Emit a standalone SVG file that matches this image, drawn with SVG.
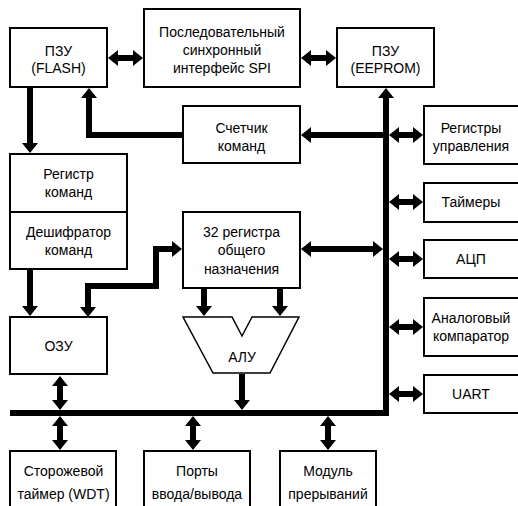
<svg xmlns="http://www.w3.org/2000/svg" width="518" height="506" viewBox="0 0 518 506">
<style>
.b{fill:#fff;stroke:#000;stroke-width:2}
.t{font-family:"Liberation Sans",Arial,sans-serif;font-size:14px;fill:#000;text-anchor:middle}
.c{fill:none;stroke:#000;stroke-width:6;stroke-linejoin:miter;stroke-linecap:butt}
.a1{marker-end:url(#ah)}
.a2{marker-start:url(#ah);marker-end:url(#ah)}
</style>
<defs>
<marker id="ah" markerUnits="userSpaceOnUse" markerWidth="10" markerHeight="16" refX="0" refY="8" orient="auto-start-reverse" overflow="visible">
<path d="M0,0 L10,8 L0,16 Z" fill="#000"/>
</marker>
</defs>
<rect width="518" height="506" fill="#fff"/>

<g id="connectors">
<!-- bus -->
<polyline class="c a1" points="10,413 386,413 386,98"/>
<line class="c a2" x1="118" y1="58" x2="133" y2="58"/>
<line class="c a2" x1="311" y1="58" x2="326" y2="58"/>
<line class="c a1" x1="30" y1="88" x2="30" y2="143"/>
<polyline class="c a1" points="183,135 89,135 89,98"/>
<line class="c a1" x1="386" y1="135" x2="311" y2="135"/>
<line class="c a2" x1="399" y1="135" x2="413" y2="135"/>
<line class="c a2" x1="399" y1="202" x2="413" y2="202"/>
<line class="c a2" x1="399" y1="259" x2="413" y2="259"/>
<line class="c a2" x1="399" y1="327" x2="413" y2="327"/>
<line class="c a2" x1="399" y1="394" x2="413" y2="394"/>
<line class="c a2" x1="311" y1="249" x2="373" y2="249"/>
<polyline class="c a2" points="172,249 156,249 156,286 88,286 88,307"/>
<line class="c a1" x1="30" y1="270" x2="30" y2="306"/>
<line class="c a1" x1="204" y1="289" x2="204" y2="306"/>
<line class="c a1" x1="280" y1="289" x2="280" y2="306"/>
<line class="c a1" x1="242" y1="374" x2="242" y2="400"/>
<line class="c a2" x1="60" y1="386" x2="60" y2="400"/>
<line class="c a2" x1="60" y1="426" x2="60" y2="440"/>
<line class="c a2" x1="193" y1="426" x2="193" y2="440"/>
<line class="c a2" x1="328" y1="426" x2="328" y2="440"/>
</g>

<g id="flash">
<rect class="b" x="10" y="28" width="97" height="59"/>
<text class="t" x="58.5" y="56">ПЗУ</text>
<text class="t" x="58.5" y="73">(FLASH)</text>
</g>
<g id="spi">
<rect class="b" x="144" y="9" width="156" height="78"/>
<text class="t" x="222" y="37">Последовательный</text>
<text class="t" x="222" y="55">синхронный</text>
<text class="t" x="222" y="73">интерфейс SPI</text>
</g>
<g id="eeprom">
<rect class="b" x="337" y="28" width="97" height="59"/>
<text class="t" x="385.5" y="56">ПЗУ</text>
<text class="t" x="385.5" y="73">(EEPROM)</text>
</g>
<g id="counter">
<rect class="b" x="183" y="106" width="117" height="57"/>
<text class="t" x="241.5" y="133">Счетчик</text>
<text class="t" x="241.5" y="151">команд</text>
</g>
<g id="ctrlregs">
<rect class="b" x="424" y="106" width="100" height="58"/>
<text class="t" x="471" y="133">Регистры</text>
<text class="t" x="471" y="151">управления</text>
</g>
<g id="irdec">
<rect class="b" x="10" y="154" width="117" height="115"/>
<line x1="10" y1="212" x2="127" y2="212" stroke="#000" stroke-width="2"/>
<text class="t" x="68.5" y="179">Регистр</text>
<text class="t" x="68.5" y="197">команд</text>
<text class="t" x="68.5" y="237">Дешифратор</text>
<text class="t" x="68.5" y="255">команд</text>
</g>
<g id="gpr">
<rect class="b" x="183" y="212" width="117" height="76"/>
<text class="t" x="241.5" y="237">32 регистра</text>
<text class="t" x="241.5" y="255">общего</text>
<text class="t" x="241.5" y="274">назначения</text>
</g>
<g id="timers">
<rect class="b" x="424" y="183" width="100" height="39"/>
<text class="t" x="471" y="207">Таймеры</text>
</g>
<g id="adc">
<rect class="b" x="424" y="240" width="100" height="38"/>
<text class="t" x="471" y="264">АЦП</text>
</g>
<g id="comp">
<rect class="b" x="424" y="298" width="100" height="58"/>
<text class="t" x="471" y="323">Аналоговый</text>
<text class="t" x="471" y="341">компаратор</text>
</g>
<g id="uart">
<rect class="b" x="424" y="375" width="100" height="38"/>
<text class="t" x="471" y="399">UART</text>
</g>
<g id="ram">
<rect class="b" x="10" y="317" width="97" height="57"/>
<text class="t" x="58.5" y="351">ОЗУ</text>
</g>
<g id="alu">
<polygon points="183,317 232,317 242,336 252,317 299,317 270,373 213,373" fill="#fff" stroke="#000" stroke-width="1.5"/>
<text class="t" x="242" y="362">АЛУ</text>
</g>
<g id="wdt">
<rect class="b" x="10" y="451" width="106" height="70"/>
<text class="t" x="63.5" y="476">Сторожевой</text>
<text class="t" x="63.5" y="499">таймер (WDT)</text>
</g>
<g id="ports">
<rect class="b" x="144" y="451" width="106" height="70"/>
<text class="t" x="197" y="476">Порты</text>
<text class="t" x="197" y="499">ввода/вывода</text>
</g>
<g id="irq">
<rect class="b" x="280" y="451" width="96" height="70"/>
<text class="t" x="328" y="476">Модуль</text>
<text class="t" x="328" y="499">прерываний</text>
</g>
</svg>
